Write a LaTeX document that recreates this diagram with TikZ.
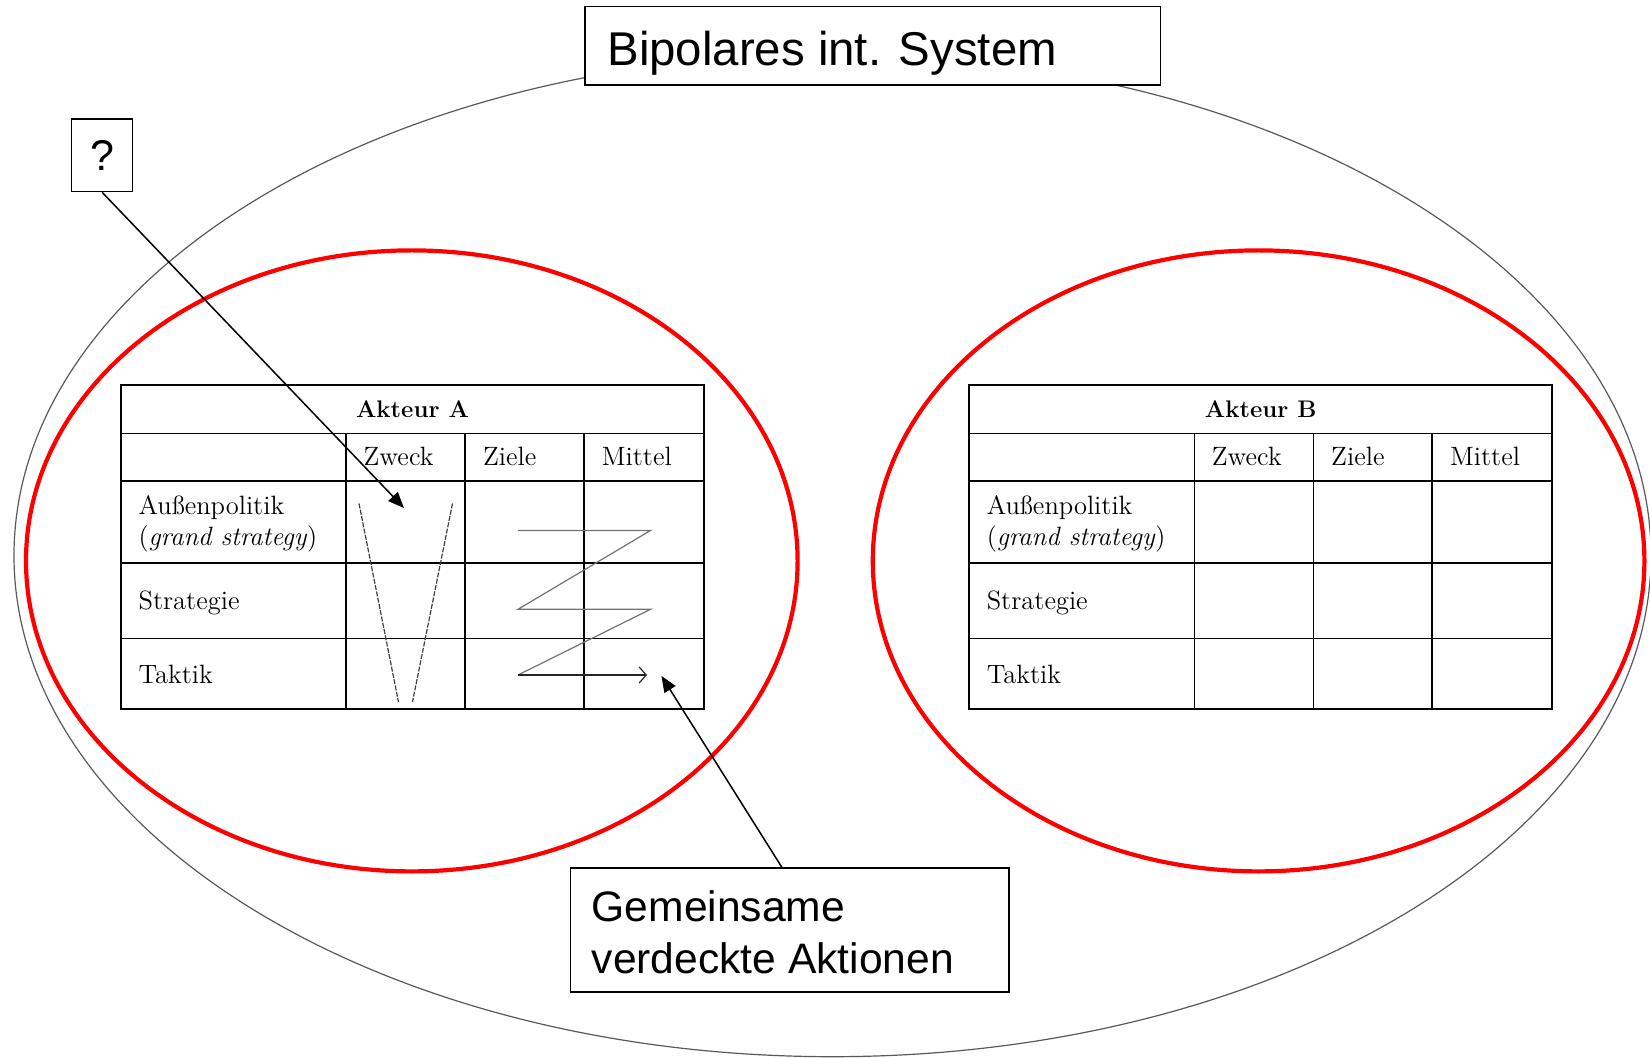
\documentclass[tikz,border=0pt]{standalone}
\usepackage{fontspec}
\newfontfamily\arialfont{Liberation Sans}
\usetikzlibrary{arrows.meta}

\tikzset{
  outerring/.style={draw=black!65, line width=0.6pt},
  actorring/.style={draw=red, line width=2.1pt},
  gridline/.style={draw=black, line width=0.8pt},
  celltext/.style={anchor=base west, inner sep=0pt, font=\fontsize{13.25}{15}\selectfont},
  headtext/.style={anchor=base, inner sep=0pt, font=\fontsize{12}{15}\selectfont\bfseries},
  labelbox/.style={draw=black, line width=0.75pt, fill=white, inner sep=0pt},
  labeltext/.style={anchor=base west, inner sep=0pt, font=\arialfont\fontsize{21.3}{25.6}\selectfont},
  pointer/.style={draw=black, line width=0.75pt, -{Triangle[length=8pt,width=6.5pt]}},
  flowline/.style={draw=black!55, line width=0.6pt},
  flowend/.style={draw=black!85, line width=0.6pt, -{Straight Barb[length=3.5pt,width=8pt]}},
  vline/.style={draw=black!75, line width=0.6pt, dash pattern=on 2.5pt off 0.7pt},
}

% One actor table: #1 name prefix, #2 horizontal shift, #3 title
\newcommand\akteurtafel[3]{%
  \begin{scope}[shift={(#2,0)}]
    \draw[gridline] (121,385.1) rectangle (704,709.2);
    \foreach \yy in {433.5,480.9,563.0,638.7}
      \draw[gridline] (121,\yy) -- (704,\yy);
    \foreach \xx in {346.2,465.1,584.0}
      \draw[gridline] (\xx,433.5) -- (\xx,709.2);
    \node[headtext] (#1-titel) at (412.5,417.5) {#3};
    \node[celltext] (#1-zweck)  at (363.2,466) {Zweck};
    \node[celltext] (#1-ziele)  at (482.6,466) {Ziele};
    \node[celltext] (#1-mittel) at (601.5,466) {Mittel};
    \node[celltext] (#1-aussen) at (138.2,515) {Außenpolitik};
    \node[celltext] (#1-grand)  at (138.2,546) {(\textit{grand strategy})};
    \node[celltext] (#1-strat)  at (138.2,609.5) {Strategie};
    \node[celltext] (#1-takt)   at (138.2,683.5) {Taktik};
  \end{scope}
}

\begin{document}
\begin{tikzpicture}[x=0.5pt,y=-0.5pt]
  \useasboundingbox (0,0) rectangle (1650,1058);

  % the bipolar system
  \draw[outerring] (832.5,555.5) ellipse [x radius=409.25pt, y radius=250.6pt];

  % the two actors
  \draw[actorring] (411.8,560.9) ellipse [x radius=192.9pt, y radius=155.25pt];
  \draw[actorring] (1258.6,560.9) ellipse [x radius=192.9pt, y radius=155.25pt];

  \akteurtafel{A}{0}{Akteur A}
  \akteurtafel{B}{848.2}{Akteur B}

  % funnel in the Zweck column
  \draw[vline] (359,503.5) -- (398.5,702);
  \draw[vline] (452.5,503.5) -- (412.5,702);

  % zigzag through Ziele and Mittel
  \draw[flowline] (518,530.5) -- (650.5,530.5) -- (518,609.3) -- (650.5,609.3) -- (518,675);
  \draw[flowend] (518,675) -- (647,675);

  % title box
  \node[labelbox, minimum width=287.8pt, minimum height=39.45pt] (titlebox) at (872.9,45.75) {};
  \node[labeltext, font=\arialfont\fontsize{23.7}{28}\selectfont] (titletext) at (607,66) {Bipolares int. System};

  % question box
  \node[labelbox, minimum width=30.5pt, minimum height=36.3pt, font=\arialfont\fontsize{21.5}{25.8}\selectfont] (qbox) at (102.1,155.2) {?};

  % joint covert actions box
  \node[labelbox, minimum width=219.45pt, minimum height=61.9pt] (gbox) at (789.75,930.1) {};
  \node[labeltext] (gline1) at (591.4,921.5) {Gemeinsame};
  \node[labeltext] (gline2) at (591.4,973) {verdeckte Aktionen};

  % pointers
  \coordinate (qtarget) at (404,508);
  \coordinate (gtarget) at (661.5,676);
  \draw[pointer] (qbox.south) -- (qtarget);
  \draw[pointer] ([xshift=-3.9pt]gbox.north) -- (gtarget);
\end{tikzpicture}
\end{document}
